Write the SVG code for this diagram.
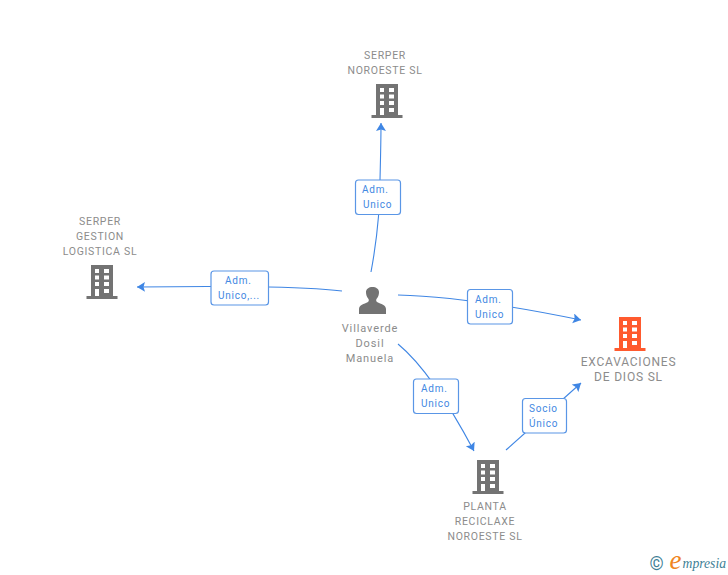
<svg xmlns="http://www.w3.org/2000/svg" width="728" height="575" viewBox="0 0 728 575">
<style>
text{font-family:Roboto,"Liberation Sans",sans-serif}
.n{font-size:10.5px;fill:#8c8c8c;text-anchor:middle;letter-spacing:.7px}
.p{font-size:11px;letter-spacing:.9px}
.e{font-size:12px;letter-spacing:.8px}
.l{font-size:10px;fill:#4288e2;letter-spacing:.75px}
.c{fill:none;stroke:#3f86e4;stroke-width:1.1}
.b{fill:#fff;stroke:#5a96e6;stroke-width:1.2}
.m{font-family:"Liberation Serif",serif;font-style:italic}
</style>
<defs>
<marker id="a" markerUnits="userSpaceOnUse" markerWidth="11" markerHeight="11" refX="8" refY="5" orient="auto"><path d="M0 0L8 5L0 10L1.500 5Z" fill="#3f86e4"/></marker>
<path id="bld" fill-rule="evenodd" d="M-11 0H11V31H15.500V34H-15.500V31H-11ZM-7 4V8H-3V4ZM2 4V8H7V4ZM-7 10.500V14.500H-3V10.500ZM2 10.500V14.500H7V10.500ZM-7 17V21H-3V17ZM2 17V21H7V17ZM-7 24V31H-3V24ZM2 24V28H7V24Z"/>
</defs>
<g id="connectors">
<path class="c" marker-end="url(#a)" d="M371 272C376 245 380 215 380 180C380.500 160 381 140 381 123"/>
<path class="c" marker-end="url(#a)" d="M342 291Q290 285 137 287"/>
<path class="c" marker-end="url(#a)" d="M398 295Q470 297 581 320"/>
<path class="c" marker-end="url(#a)" d="M398 344Q432 372 474 451"/>
<path class="c" marker-end="url(#a)" d="M506 450L581 383"/>
</g>
<g id="label-top"><rect class="b" x="355.500" y="180" width="45" height="34.500" rx="3"/><text class="l" x="362" y="193">Adm.</text><text class="l" x="363" y="208">Unico</text></g>
<g id="label-left"><rect class="b" x="211" y="271" width="57.500" height="34" rx="3"/><text class="l" x="225" y="284">Adm.</text><text class="l" x="218" y="299">Unico,...</text></g>
<g id="label-right"><rect class="b" x="467.500" y="289.500" width="45" height="34.500" rx="3"/><text class="l" x="475" y="303">Adm.</text><text class="l" x="475" y="318">Unico</text></g>
<g id="label-bottom"><rect class="b" x="413.500" y="379" width="45" height="34.500" rx="3"/><text class="l" x="421" y="392">Adm.</text><text class="l" x="421" y="407">Unico</text></g>
<g id="label-socio"><rect class="b" x="522.500" y="398.500" width="44" height="34.500" rx="3"/><text class="l" x="529" y="412">Socio</text><text class="l" x="529" y="427">Único</text></g>
<g id="node-serper-noroeste"><text class="n" x="385" y="59">SERPER</text><text class="n" x="385" y="74">NOROESTE SL</text><use href="#bld" x="387" y="84" fill="#737373"/></g>
<g id="node-serper-gestion"><text class="n" x="100" y="225">SERPER</text><text class="n" x="100" y="240">GESTION</text><text class="n" x="100" y="255">LOGISTICA SL</text><use href="#bld" x="102" y="265" fill="#737373"/></g>
<g id="node-person"><path fill="#737373" d="M359 314V309C359 305 364 304 368 302C369 301 369 300 368.500 299C366.500 297 366 294 366 292C366 289 369 287 372.500 287C376 287 379 289 379 292C379 294 378.500 297 376.500 299C376 300 376 301 377 302C381 304 386 305 386 309V314Z"/><text class="n p" x="370" y="332">Villaverde</text><text class="n p" x="370" y="347">Dosil</text><text class="n p" x="370" y="362">Manuela</text></g>
<g id="node-excavaciones"><use href="#bld" x="630" y="317" fill="#ff5a2e"/><text class="n e" x="628.500" y="366">EXCAVACIONES</text><text class="n e" x="628.500" y="381">DE DIOS SL</text></g>
<g id="node-planta"><use href="#bld" x="488" y="460" fill="#737373"/><text class="n" x="485" y="510">PLANTA</text><text class="n" x="485" y="525">RECICLAXE</text><text class="n" x="485" y="540">NOROESTE SL</text></g>
<g id="logo"><text x="649.500" y="570" style="font-size:18px;fill:#3f7f96">©</text><text class="m" x="669.500" y="569" style="font-size:27px;fill:#f0851e">e</text><text class="m" x="682.500" y="568" style="font-size:13.700px;fill:#3f7f96">mpresia</text></g>
</svg>
